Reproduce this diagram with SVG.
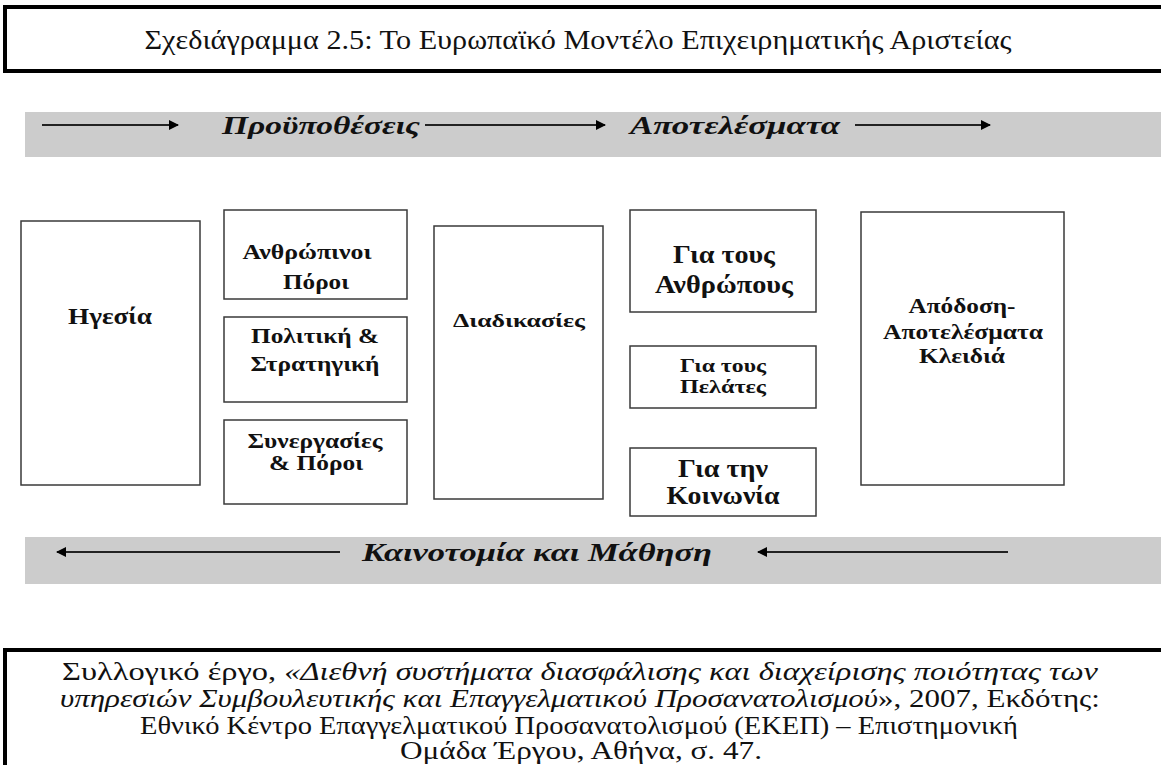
<svg xmlns="http://www.w3.org/2000/svg" width="1161" height="765" viewBox="0 0 1161 765">
<style>
.frame{fill:#fff;stroke:#000;stroke-width:4}
.band{fill:#cccccc}
.box{fill:#fff;stroke:#3a3a3a;stroke-width:1.5}
.lbl{font-family:"Liberation Serif","Times New Roman",serif;font-weight:bold;fill:#111;text-anchor:middle}
.band-t{font-family:"Liberation Serif","Times New Roman",serif;font-weight:bold;font-style:italic;font-size:25px;fill:#111}
.cap{font-family:"Liberation Serif","Times New Roman",serif;fill:#111;text-anchor:middle}
.arr{stroke:#222;stroke-width:2;fill:none}
</style>
<defs>
<marker id="ah" viewBox="0 0 10 10" refX="9" refY="5" markerWidth="5" markerHeight="5" markerUnits="strokeWidth" orient="auto">
<path d="M0,0 L10,5 L0,10 z" fill="#000"/>
</marker>
</defs>

<g id="title">
<rect class="frame" x="5" y="7" width="1170" height="64"/>
<text class="cap" x="578" y="49" font-size="28" textLength="867" lengthAdjust="spacingAndGlyphs">Σχεδιάγραμμα 2.5: Το Ευρωπαϊκό Μοντέλο Επιχειρηματικής Αριστείας</text>
</g>

<g id="top-band">
<rect class="band" x="25" y="112" width="1140" height="45"/>
<text class="band-t" x="222" y="134" textLength="198" lengthAdjust="spacingAndGlyphs">Προϋποθέσεις</text>
<text class="band-t" x="630" y="134" textLength="210" lengthAdjust="spacingAndGlyphs">Αποτελέσματα</text>
</g>

<g id="bottom-band">
<rect class="band" x="25" y="537" width="1140" height="47"/>
<text class="band-t" x="362" y="561" textLength="350" lengthAdjust="spacingAndGlyphs">Καινοτομία και Μάθηση</text>
</g>

<g id="connectors">
<line class="arr" x1="42" y1="125" x2="178" y2="125" marker-end="url(#ah)"/>
<line class="arr" x1="425" y1="125" x2="605" y2="125" marker-end="url(#ah)"/>
<line class="arr" x1="855" y1="125" x2="990" y2="125" marker-end="url(#ah)"/>
<line class="arr" x1="340" y1="552" x2="57" y2="552" marker-end="url(#ah)"/>
<line class="arr" x1="1008" y1="552" x2="758" y2="552" marker-end="url(#ah)"/>
</g>

<g id="n-igesia">
<rect class="box" x="21" y="221" width="179" height="264"/>
<text class="lbl" x="110" y="324" font-size="23" textLength="84" lengthAdjust="spacingAndGlyphs">Ηγεσία</text>
</g>
<g id="n-anthropinoi">
<rect class="box" x="224" y="210" width="183" height="89"/>
<text class="lbl" x="307" y="259" font-size="20" textLength="129" lengthAdjust="spacingAndGlyphs">Ανθρώπινοι</text>
<text class="lbl" x="316" y="289" font-size="20" textLength="66" lengthAdjust="spacingAndGlyphs">Πόροι</text>
</g>
<g id="n-politiki">
<rect class="box" x="224" y="317" width="183" height="85"/>
<text class="lbl" x="315" y="343" font-size="20" textLength="128" lengthAdjust="spacingAndGlyphs">Πολιτική &amp;</text>
<text class="lbl" x="315" y="371" font-size="20" textLength="129" lengthAdjust="spacingAndGlyphs">Στρατηγική</text>
</g>
<g id="n-synergasies">
<rect class="box" x="224" y="420" width="183" height="84"/>
<text class="lbl" x="315" y="448" font-size="20" textLength="135" lengthAdjust="spacingAndGlyphs">Συνεργασίες</text>
<text class="lbl" x="316" y="470" font-size="20" textLength="94" lengthAdjust="spacingAndGlyphs">&amp; Πόροι</text>
</g>
<g id="n-diadikasies">
<rect class="box" x="434" y="226" width="169" height="273"/>
<text class="lbl" x="519" y="327" font-size="19" textLength="132" lengthAdjust="spacingAndGlyphs">Διαδικασίες</text>
</g>
<g id="n-anthropous">
<rect class="box" x="630" y="210" width="186" height="102"/>
<text class="lbl" x="724" y="263" font-size="25" textLength="102" lengthAdjust="spacingAndGlyphs">Για τους</text>
<text class="lbl" x="724" y="293" font-size="25" textLength="138" lengthAdjust="spacingAndGlyphs">Ανθρώπους</text>
</g>
<g id="n-pelates">
<rect class="box" x="630" y="346" width="186" height="62"/>
<text class="lbl" x="723" y="372" font-size="18" textLength="86" lengthAdjust="spacingAndGlyphs">Για τους</text>
<text class="lbl" x="723" y="393" font-size="18" textLength="86" lengthAdjust="spacingAndGlyphs">Πελάτες</text>
</g>
<g id="n-koinonia">
<rect class="box" x="630" y="448" width="186" height="68"/>
<text class="lbl" x="723" y="477" font-size="25" textLength="90" lengthAdjust="spacingAndGlyphs">Για την</text>
<text class="lbl" x="723" y="504" font-size="25" textLength="113" lengthAdjust="spacingAndGlyphs">Κοινωνία</text>
</g>
<g id="n-apodosi">
<rect class="box" x="861" y="212" width="203" height="273"/>
<text class="lbl" x="962" y="313" font-size="20" textLength="107" lengthAdjust="spacingAndGlyphs">Απόδοση-</text>
<text class="lbl" x="963" y="339" font-size="20" textLength="160" lengthAdjust="spacingAndGlyphs">Αποτελέσματα</text>
<text class="lbl" x="962" y="363" font-size="20" textLength="86" lengthAdjust="spacingAndGlyphs">Κλειδιά</text>
</g>

<g id="source">
<rect class="frame" x="5" y="650" width="1170" height="130"/>
<text class="cap" x="580" y="680" font-size="25" textLength="1036" lengthAdjust="spacingAndGlyphs">Συλλογικό έργο, <tspan font-style="italic">«Διεθνή συστήματα διασφάλισης και διαχείρισης ποιότητας των</tspan></text>
<text class="cap" x="580" y="707" font-size="25" textLength="1040" lengthAdjust="spacingAndGlyphs"><tspan font-style="italic">υπηρεσιών Συμβουλευτικής και Επαγγελματικού Προσανατολισμού</tspan>», 2007, Εκδότης:</text>
<text class="cap" x="579" y="734" font-size="25" textLength="878" lengthAdjust="spacingAndGlyphs">Εθνικό Κέντρο Επαγγελματικού Προσανατολισμού (ΕΚΕΠ) – Επιστημονική</text>
<text class="cap" x="581" y="759" font-size="25" textLength="362" lengthAdjust="spacingAndGlyphs">Ομάδα Έργου, Αθήνα, σ. 47.</text>
</g>
</svg>
